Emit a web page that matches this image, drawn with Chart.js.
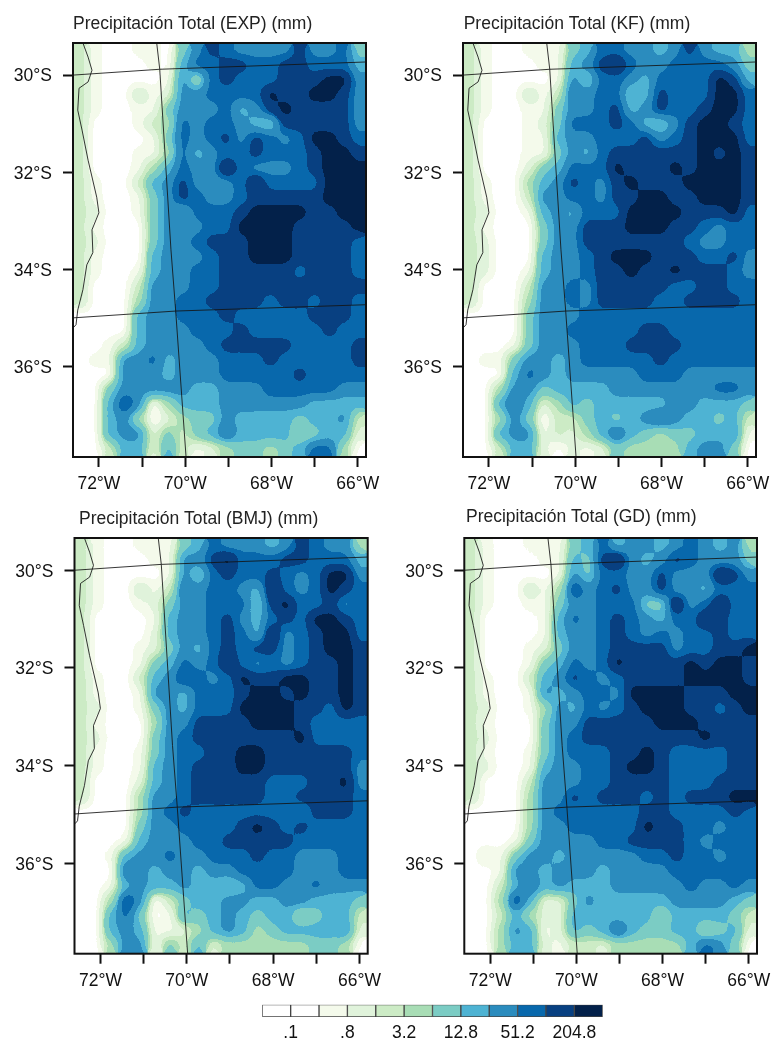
<!DOCTYPE html>
<html>
<head>
<meta charset="utf-8">
<title>Precipitación Total</title>
<script src="https://cdn.jsdelivr.net/npm/chart.js@4/dist/chart.umd.min.js"></script>
<style>
    html, body { margin: 0; padding: 0; background: #fff; overflow: hidden; }
    body { width: 772px; height: 1038px; position: relative; }
    canvas { position: absolute; }
</style>
</head>
<body>
<canvas id="expChart" width="390" height="497" style="left:0;top:0"></canvas>
<canvas id="kfChart" width="390" height="497" style="left:390px;top:0"></canvas>
<canvas id="bmjChart" width="390" height="498" style="left:0;top:495px"></canvas>
<canvas id="gdChart" width="390" height="498" style="left:390px;top:495px"></canvas>
<canvas id="barChart" width="390" height="48" style="left:240px;top:990px"></canvas>
<script>
// grid of the maps: cell centres in longitude, cell edges in latitude
const lons = [-72.43,-72.09,-71.75,-71.41,-71.07,-70.73,-70.39,-70.05,-69.72,-69.38,-69.04,-68.70,-68.36,-68.02,-67.68,-67.34,-67.00,-66.66,-66.32,-65.98];
const latEdges = [-29.34,-29.64,-29.95,-30.25,-30.55,-30.86,-31.16,-31.46,-31.77,-32.07,-32.37,-32.68,-32.98,-33.28,-33.59,-33.89,-34.19,-34.50,-34.80,-35.10,-35.41,-35.71,-36.01,-36.32,-36.62,-36.92,-37.23,-37.53,-37.85];

const latTicks = [-30,-32,-34,-36];
const latLabels = ["30°S","32°S","34°S","36°S"];
const lonTicks = [-72,-71,-70,-69,-68,-67,-66];
const lonLabels = ["72°W","","70°W","","68°W","","66°W"];

// colour classes of the legend, 0 = lowest
const classColors = ["#ffffff","#ffffff","#f4faeb","#e0f3db","#ccebc5","#a8ddb5","#7bccc4","#4eb3d3","#2b8cbe","#0868ac","#084081","#03214a"];
const classPositions = [0.5,1.5,2.5,3.5,4.5,5.5,6.5,7.5,8.5,9.5,10.5,11.5];
const barTicks = [1,3,5,7,9,11];
const barLabels = [".1",".8","3.2","12.8","51.2","204.8"];

// precipitation class per cell, north to south
const expLevels = [
[4,2,0,0,2,2,0,6,8,10,9,8,8,8,8,10,8,8,9,6],
[4,2,0,0,0,2,0,7,9,9,10,10,9,9,10,10,9,9,9,7],
[4,2,0,0,0,0,2,8,5,9,10,9,9,9,10,10,10,11,11,8],
[4,2,0,0,4,2,3,8,8,9,9,9,9,11,10,10,11,11,10,8],
[4,2,0,0,2,2,6,8,8,8,9,7,8,10,11,10,10,10,10,8],
[4,0,0,0,2,4,5,9,8,9,9,8,7,6,10,10,10,10,10,8],
[4,0,0,0,0,2,6,9,8,9,10,8,10,9,8,9,11,11,10,9],
[4,0,0,0,2,2,5,9,7,8,9,9,10,9,9,9,10,11,11,10],
[4,0,0,0,2,5,7,9,8,8,11,9,8,8,8,9,10,11,11,11],
[4,2,0,0,4,7,8,10,8,8,8,9,11,9,9,9,9,11,11,11],
[4,2,0,0,2,6,8,10,9,8,8,9,10,10,10,10,10,11,11,11],
[4,3,0,0,2,6,8,7,9,9,9,10,11,11,11,11,10,10,11,11],
[4,2,0,0,0,6,8,8,8,9,9,11,11,11,11,10,10,10,10,11],
[4,3,0,0,0,6,8,8,9,10,10,10,11,11,11,10,10,10,10,9],
[4,2,0,0,0,7,8,8,8,9,10,10,11,11,11,10,10,10,10,9],
[4,2,0,0,2,7,8,8,9,9,10,10,10,10,10,9,10,10,10,9],
[4,0,0,0,4,8,8,8,9,9,10,10,10,10,10,10,10,10,10,10],
[4,0,0,0,5,8,8,9,9,10,10,10,10,9,10,10,9,10,10,9],
[0,0,0,0,7,8,8,9,9,9,10,9,9,9,9,9,10,10,10,9],
[0,0,0,0,7,8,8,8,9,9,9,10,9,9,9,9,9,10,9,9],
[0,0,2,4,7,8,8,8,8,9,10,10,10,10,10,9,9,9,9,10],
[0,2,2,8,8,9,7,8,8,8,9,9,9,10,9,9,9,9,9,10],
[0,0,0,8,8,8,7,8,8,8,9,9,9,9,9,10,9,9,9,9],
[0,0,6,8,8,8,8,8,7,7,8,8,8,9,9,9,9,9,8,8],
[0,0,7,10,8,0,5,7,7,7,8,8,8,8,8,8,7,7,7,7],
[0,0,7,8,5,0,3,5,6,6,8,7,7,7,7,6,7,7,8,4],
[0,0,7,8,8,3,6,4,6,7,9,7,7,7,7,5,6,7,7,3],
[0,0,4,7,7,3,7,4,2,3,5,6,6,5,6,7,9,9,5,0]
];
const kfLevels = [
[4,2,0,0,2,2,2,6,7,9,9,8,8,7,8,10,8,7,7,5],
[4,2,0,0,0,2,2,7,8,10,11,9,8,8,9,9,9,9,8,6],
[4,2,0,0,0,0,2,8,6,9,9,8,7,9,9,9,9,11,10,7],
[4,2,0,0,4,2,4,9,8,9,9,6,7,10,9,9,9,11,11,9],
[4,2,0,0,2,2,6,8,8,9,10,7,8,10,9,9,10,11,11,9],
[4,0,0,0,2,3,6,9,9,9,10,9,7,6,8,10,11,11,10,9],
[4,0,0,0,2,2,7,8,8,9,9,9,10,8,9,10,11,11,11,9],
[4,0,0,0,2,2,6,8,7,9,10,10,10,10,10,10,11,10,11,10],
[4,0,0,0,3,6,7,9,9,9,11,10,10,10,11,10,11,11,11,10],
[4,2,0,0,5,7,8,10,9,8,10,11,10,10,10,11,11,11,11,10],
[4,2,0,0,4,8,8,9,9,8,10,10,11,11,10,10,11,11,11,10],
[4,3,0,0,2,7,8,7,9,9,9,11,11,11,11,10,10,10,11,9],
[4,2,0,0,0,6,8,8,10,10,10,11,11,11,10,10,9,8,9,9],
[4,3,0,0,0,6,8,8,10,10,10,10,10,10,10,9,8,8,9,9],
[4,3,0,0,0,7,8,8,9,10,11,11,11,10,10,10,9,9,10,8],
[4,3,0,0,2,7,8,8,9,10,10,11,10,10,11,10,10,10,9,8],
[4,0,0,0,4,8,8,9,8,10,10,10,10,10,9,9,10,10,9,9],
[4,0,0,0,5,8,8,9,8,10,10,10,10,9,9,10,10,10,10,9],
[0,0,0,0,6,8,8,8,9,9,9,9,9,9,9,9,9,9,9,9],
[0,0,0,0,6,8,8,9,9,9,9,9,10,10,9,9,9,9,9,9],
[0,0,0,2,6,8,8,8,9,9,9,10,10,10,10,9,9,9,9,9],
[0,2,2,6,8,8,7,8,9,9,9,9,9,10,9,9,9,9,9,9],
[0,0,0,7,9,8,7,8,8,8,8,8,9,9,9,8,8,8,8,8],
[0,0,5,8,8,6,7,7,7,7,8,8,8,8,8,8,8,9,9,8],
[0,0,7,9,7,3,5,7,6,7,7,7,7,7,8,8,7,7,7,6],
[0,0,5,8,6,0,4,4,6,7,6,7,8,9,8,7,7,6,7,4],
[0,0,7,8,8,2,4,3,5,7,9,7,6,5,6,6,7,7,8,2],
[0,0,4,7,7,3,0,3,2,3,6,5,5,5,5,7,8,8,6,0]
];
const bmjLevels = [
[4,2,0,0,2,2,2,6,7,9,8,8,8,7,8,10,9,8,8,5],
[4,2,0,0,0,2,2,8,8,10,11,9,9,9,10,10,9,9,9,7],
[4,2,0,0,0,0,2,8,6,9,10,9,9,10,9,8,9,11,11,8],
[4,2,0,0,4,2,4,9,8,9,9,8,7,11,9,8,9,11,10,9],
[4,2,0,0,2,3,6,8,8,9,9,9,6,10,11,9,9,10,8,9],
[4,0,0,0,0,2,7,8,8,9,10,8,7,9,10,9,11,11,10,9],
[4,0,0,0,0,3,7,8,8,9,10,9,7,11,8,9,10,11,11,9],
[4,0,0,0,2,3,6,8,7,9,10,9,10,10,8,9,10,11,11,10],
[4,0,0,0,2,6,7,9,8,9,11,9,8,9,8,9,10,10,11,10],
[4,2,0,0,4,7,8,10,9,8,9,11,10,10,11,11,10,10,11,10],
[4,2,0,0,2,8,8,7,9,9,9,10,11,11,10,11,10,10,11,10],
[4,3,0,0,2,6,8,7,9,9,9,11,11,11,11,10,10,9,11,10],
[4,2,0,0,0,5,8,8,10,10,10,10,11,11,11,10,9,9,9,9],
[4,3,0,0,0,6,8,9,10,10,10,10,10,10,10,11,9,9,9,9],
[4,2,0,0,2,6,8,9,9,10,10,11,11,10,10,10,10,10,10,9],
[4,2,0,0,2,7,8,9,10,10,10,11,11,10,10,10,10,10,10,8],
[4,0,0,0,3,7,8,9,10,10,10,10,10,9,9,9,10,10,11,8],
[4,0,0,0,5,8,8,9,10,10,10,10,10,9,9,10,10,10,10,9],
[0,0,0,0,5,8,9,10,9,9,9,9,9,9,9,8,10,10,10,9],
[0,0,0,0,6,8,8,9,9,9,9,10,11,10,9,10,9,9,9,9],
[0,0,0,2,7,8,8,8,9,9,10,10,10,10,10,9,9,9,9,9],
[0,0,2,7,8,8,9,8,8,9,9,9,10,9,9,8,8,8,9,9],
[0,0,0,9,8,7,8,8,7,8,8,9,9,9,9,8,8,8,9,9],
[0,0,2,7,8,7,7,8,7,7,6,7,9,9,8,8,9,8,8,8],
[0,0,5,10,8,0,4,6,7,7,8,8,7,7,8,8,7,7,7,6],
[0,0,7,9,6,0,2,7,6,7,8,7,6,7,7,5,6,7,7,4],
[0,0,7,8,7,2,2,3,5,7,8,7,5,6,7,7,7,7,8,3],
[0,0,5,8,8,2,6,4,7,3,5,5,5,5,5,5,6,6,5,0]
];
const gdLevels = [
[4,2,0,0,2,2,2,6,7,9,7,8,8,7,8,9,8,7,8,5],
[4,2,0,0,0,2,2,7,6,10,11,8,7,8,10,9,8,8,8,6],
[4,2,0,0,0,0,2,8,6,9,9,8,8,10,8,8,8,11,10,8],
[4,2,0,0,4,2,5,10,8,9,10,8,8,10,8,8,7,9,9,9],
[4,2,0,0,2,2,6,8,8,9,9,9,6,6,11,8,9,11,9,9],
[4,0,0,0,0,2,7,9,8,9,10,9,8,7,9,9,11,10,9,9],
[4,0,0,0,0,2,7,8,8,9,10,9,8,9,8,9,9,10,9,9],
[4,0,0,0,2,3,6,8,8,9,10,10,10,10,8,9,9,10,10,11],
[4,0,0,0,2,6,7,9,8,9,11,10,10,10,10,11,10,11,11,10],
[4,2,0,0,4,7,8,10,9,8,9,10,10,10,10,11,11,11,11,10],
[4,2,0,0,2,8,7,8,9,9,8,11,11,11,11,10,10,10,11,11],
[4,3,0,0,2,5,8,7,9,8,9,10,11,11,11,10,10,9,10,11],
[4,2,0,0,0,6,8,8,10,10,10,10,10,11,11,11,10,10,10,10],
[4,3,0,0,0,6,8,9,10,10,10,10,10,10,10,10,11,10,10,10],
[4,2,0,0,2,6,8,9,9,9,10,10,11,10,9,9,9,9,10,10],
[4,3,0,0,2,7,8,8,9,9,10,11,11,10,9,9,9,9,10,10],
[4,0,0,0,4,8,8,8,9,9,10,10,10,10,9,9,9,10,10,10],
[4,0,0,0,5,8,8,10,9,10,10,10,9,10,9,10,10,10,11,11],
[0,0,0,0,5,8,9,9,9,9,9,9,10,10,9,9,9,9,10,9],
[0,0,0,0,5,8,8,9,9,9,9,9,11,10,10,9,9,8,9,9],
[0,0,0,2,6,8,8,8,8,9,9,10,10,10,10,9,8,9,9,9],
[0,3,2,6,8,8,7,8,8,8,8,8,9,9,10,9,9,8,9,9],
[0,0,2,8,8,7,8,8,8,7,8,8,8,8,9,9,9,9,9,9],
[0,0,4,7,9,7,8,7,7,7,8,8,8,8,8,9,8,8,9,8],
[0,0,5,10,7,3,3,6,8,7,7,7,7,7,8,8,8,8,7,6],
[0,0,4,7,5,3,3,7,7,7,7,7,7,5,7,7,7,7,6,4],
[0,0,5,8,7,2,3,7,6,7,9,7,6,6,7,7,5,6,7,3],
[0,0,5,7,7,3,2,4,4,3,5,5,5,5,5,7,9,8,6,0]
];

// coast and graticule, same on all four maps
const coastLons = [-72.37,-72.25,-72.16,-72.25,-72.46,-72.49,-72.39,-72.25,-72.05,-72.00,-72.16,-72.14,-72.28,-72.37,-72.49,-72.53,-72.59];
const coastLats = [-29.34,-29.63,-29.90,-30.14,-30.27,-30.72,-31.13,-31.75,-32.51,-32.83,-33.18,-33.65,-33.90,-34.41,-34.83,-35.13,-35.19];
const north30Lons = [-72.60,-70.59,-65.81];
const north30Lats = [-30.00,-29.88,-29.73];
const south35Lons = [-72.60,-70.22,-65.81];
const south35Lats = [-34.99,-34.85,-34.72];
const west70Lons = [-70.66,-70.59,-70.33,-70.22,-69.98];
const west70Lats = [-29.34,-29.88,-33.59,-34.85,-37.85];

const fontName = "'Liberation Sans', Arial, sans-serif";

const classRgb = classColors.map(h => [
    parseInt(h.slice(1, 3), 16),
    parseInt(h.slice(3, 5), 16),
    parseInt(h.slice(5, 7), 16)
]);

function toPoints(xs, ys) {
    return xs.map((x, i) => ({ x: x, y: ys[i] }));
}

function lineSet(xs, ys) {
    return {
        type: "line",
        data: toPoints(xs, ys),
        borderColor: "rgba(20,20,20,0.85)",
        borderWidth: 1,
        pointRadius: 0,
        fill: false,
        order: 0
    };
}

function makeCells(levels) {
    const cells = [];
    levels.forEach((row, r) => {
        row.forEach((level, c) => {
            cells.push({ x: lons[c], y: [latEdges[r + 1], latEdges[r]], level: level });
        });
    });
    return cells;
}

// rounds the blocks off and snaps them back to the legend colours, so the
// cells read as filled contours; the lines are drawn after this
const contourCells = {
    id: "contourCells",
    afterDatasetDraw(chart, args) {
        if (args.meta.type !== "bar") return;
        const a = chart.chartArea;
        const ctx = chart.ctx;
        ctx.save();
        ctx.beginPath();
        ctx.rect(a.left, a.top, a.width, a.height);
        ctx.clip();
        ctx.filter = "blur(6px)";
        ctx.drawImage(chart.canvas, a.left, a.top, a.width, a.height, a.left, a.top, a.width, a.height);
        ctx.restore();

        const image = ctx.getImageData(Math.floor(a.left), Math.floor(a.top), Math.ceil(a.width), Math.ceil(a.height));
        const px = image.data;
        for (let i = 0; i < px.length; i += 4) {
            let best = 0, bestDist = Infinity;
            for (let k = 0; k < classRgb.length; k++) {
                const dr = px[i] - classRgb[k][0], dg = px[i + 1] - classRgb[k][1], db = px[i + 2] - classRgb[k][2];
                const dist = dr * dr + dg * dg + db * db;
                if (dist < bestDist) { bestDist = dist; best = k; }
            }
            px[i] = classRgb[best][0];
            px[i + 1] = classRgb[best][1];
            px[i + 2] = classRgb[best][2];
            px[i + 3] = 255;
        }
        ctx.putImageData(image, Math.floor(a.left), Math.floor(a.top));
    }
};

const mapFrame = {
    id: "mapFrame",
    beforeDraw(chart, args, opts) {
        chart.titleBlock.left = chart.chartArea.left + opts.titleShift;
    },
    afterDraw(chart) {
        const a = chart.chartArea;
        chart.ctx.save();
        chart.ctx.strokeStyle = "#111";
        chart.ctx.lineWidth = 2;
        chart.ctx.strokeRect(a.left, a.top, a.width, a.height);
        chart.ctx.restore();
    }
};

function drawMap(id, name, levels, plotLeft, plotRight, plotHeight, titleTop, titleBottom, titleShift) {
    new Chart(document.getElementById(id), {
        type: "bar",
        data: {
            datasets: [
                {
                    data: makeCells(levels),
                    backgroundColor: c => classColors[c.raw.level],
                    barPercentage: 1,
                    categoryPercentage: 1,
                    order: 1
                },
                lineSet(coastLons, coastLats),
                lineSet(north30Lons, north30Lats),
                lineSet(south35Lons, south35Lats),
                lineSet(west70Lons, west70Lats)
            ]
        },
        options: {
            responsive: false,
            animation: false,
            events: [],
            layout: { padding: { right: 390 - plotRight, top: 0, bottom: 0, left: 0 } },
            scales: {
                x: {
                    type: "linear",
                    offset: false,
                    min: -72.6,
                    max: -65.81,
                    afterBuildTicks: s => { s.ticks = lonTicks.map(v => ({ value: v })); },
                    afterFit: s => { s.height = 497 - 43 - plotHeight; },
                    grid: { drawOnChartArea: false, tickLength: 10, tickColor: "#111", tickWidth: 2, offset: false },
                    border: { display: false },
                    ticks: {
                        autoSkip: false,
                        maxRotation: 0,
                        padding: 7,
                        color: "#111",
                        font: { family: fontName, size: 17.5 },
                        callback: v => lonLabels[lonTicks.indexOf(v)]
                    }
                },
                y: {
                    type: "linear",
                    min: -37.85,
                    max: -29.34,
                    afterBuildTicks: s => { s.ticks = latTicks.map(v => ({ value: v })); },
                    afterFit: s => { s.width = plotLeft; },
                    grid: { drawOnChartArea: false, tickLength: 10, tickColor: "#111", tickWidth: 2 },
                    border: { display: false },
                    ticks: {
                        padding: 11,
                        labelOffset: 1.5,
                        color: "#111",
                        font: { family: fontName, size: 17.5 },
                        callback: v => latLabels[latTicks.indexOf(v)]
                    }
                }
            },
            plugins: {
                legend: { display: false },
                tooltip: { enabled: false },
                title: {
                    display: true,
                    text: "Precipitación Total (" + name + ") (mm)",
                    align: "start",
                    fullSize: false,
                    color: "#222",
                    font: { family: fontName, size: 17.5, weight: "normal", lineHeight: 1.2 },
                    padding: { top: titleTop, bottom: titleBottom }
                },
                mapFrame: { titleShift: titleShift }
            }
        },
        plugins: [contourCells, mapFrame]
    });
}

drawMap("expChart", "EXP", expLevels, 73, 366, 414, 13.5, 8.5, 0);
drawMap("kfChart", "KF", kfLevels, 73, 366, 414, 13.5, 8.5, 0.7);
drawMap("bmjChart", "BMJ", bmjLevels, 74.5, 367.7, 414.7, 13.5, 8.5, 4.5);
drawMap("gdChart", "GD", gdLevels, 74.3, 367, 414.7, 11.5, 10.5, 1.7);

// colour bar
new Chart(document.getElementById("barChart"), {
    type: "bar",
    data: {
        datasets: [{
            data: classPositions.map(p => ({ x: p, y: 1 })),
            backgroundColor: classColors,
            borderColor: "#444",
            borderWidth: 1,
            borderSkipped: false,
            barPercentage: 1,
            categoryPercentage: 1
        }]
    },
    options: {
        responsive: false,
        animation: false,
        events: [],
        layout: { padding: { left: 22.3, right: 27.3, top: 14.7, bottom: 0 } },
        scales: {
            x: {
                type: "linear",
                offset: false,
                min: 0,
                max: 12,
                afterBuildTicks: s => { s.ticks = barTicks.map(v => ({ value: v })); },
                afterFit: s => { s.height = 21; },
                grid: { display: false, drawTicks: false },
                border: { display: false },
                ticks: {
                    autoSkip: false,
                    maxRotation: 0,
                    padding: 6,
                    color: "#111",
                    font: { family: fontName, size: 17.5 },
                    callback: v => barLabels[barTicks.indexOf(v)]
                }
            },
            y: { display: false, min: 0, max: 1 }
        },
        plugins: { legend: { display: false }, tooltip: { enabled: false } }
    }
});
</script>
</body>
</html>
